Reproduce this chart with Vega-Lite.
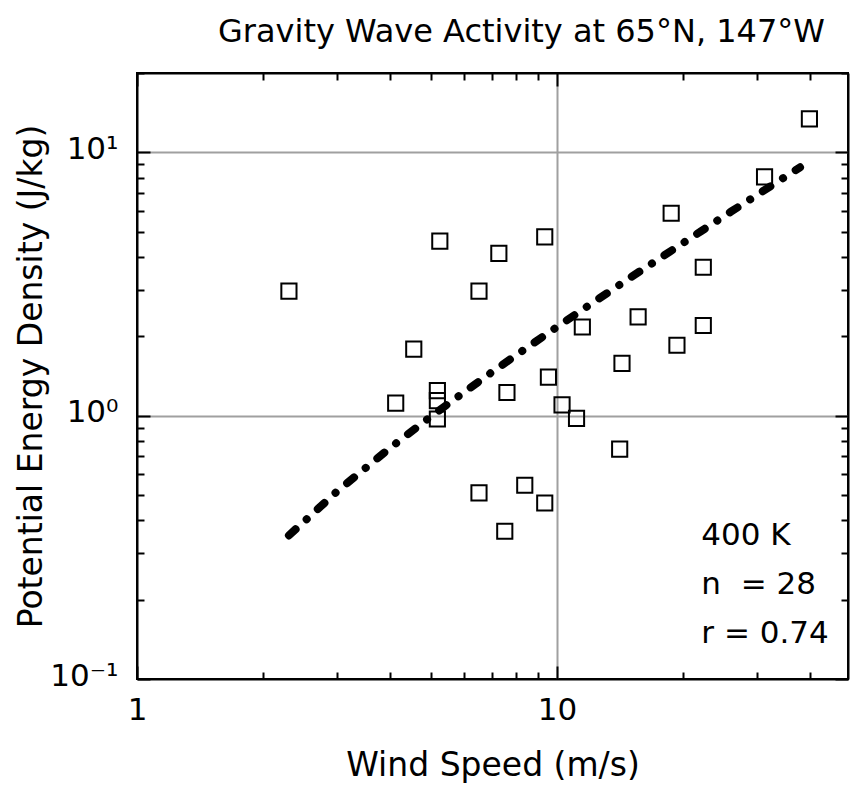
{
  "$schema": "https://vega.github.io/schema/vega-lite/v6.json",
  "width": 711,
  "height": 606,
  "autosize": "none",
  "padding": {"left": 137, "top": 73, "right": 2, "bottom": 112},
  "background": "white",
  "config": {"view": {"stroke": "black", "strokeWidth": 2}, "font": "DejaVu Sans"},
  "title": {"text": "Gravity Wave Activity at 65°N, 147°W", "font": "DejaVu Sans", "fontSize": 32, "fontWeight": "normal", "color": "black", "anchor": "middle", "frame": "group", "offset": 5, "dx": 29},
  "datasets": {
    "pts": [
      {"ws": 2.30, "ped": 2.97}, {"ws": 5.26, "ped": 4.60}, {"ws": 7.27, "ped": 4.13}, {"ws": 9.35, "ped": 4.77},
      {"ws": 6.52, "ped": 2.97}, {"ws": 4.56, "ped": 1.79}, {"ws": 4.13, "ped": 1.115}, {"ws": 5.19, "ped": 1.245},
      {"ws": 5.19, "ped": 1.14}, {"ws": 5.19, "ped": 0.971}, {"ws": 7.60, "ped": 1.224}, {"ws": 9.54, "ped": 1.40},
      {"ws": 10.28, "ped": 1.098}, {"ws": 11.13, "ped": 0.977}, {"ws": 14.1, "ped": 0.746}, {"ws": 6.52, "ped": 0.509},
      {"ws": 8.38, "ped": 0.544}, {"ws": 9.35, "ped": 0.466}, {"ws": 7.51, "ped": 0.364}, {"ws": 18.7, "ped": 5.87},
      {"ws": 22.3, "ped": 3.66}, {"ws": 15.6, "ped": 2.37}, {"ws": 11.49, "ped": 2.17}, {"ws": 22.3, "ped": 2.20},
      {"ws": 19.3, "ped": 1.85}, {"ws": 14.28, "ped": 1.58}, {"ws": 39.9, "ped": 13.4}, {"ws": 31.2, "ped": 8.07}
    ],
    "fit": [
      {"ws": 2.3, "ped": 0.351}, {"ws": 3, "ped": 0.517}, {"ws": 4, "ped": 0.753}, {"ws": 5, "ped": 0.990},
      {"ws": 6, "ped": 1.226}, {"ws": 7, "ped": 1.463}, {"ws": 8, "ped": 1.699}, {"ws": 10, "ped": 2.172},
      {"ws": 12, "ped": 2.645}, {"ws": 15, "ped": 3.355}, {"ws": 18, "ped": 4.06}, {"ws": 22, "ped": 5.01},
      {"ws": 26, "ped": 5.96}, {"ws": 30, "ped": 6.90}, {"ws": 34, "ped": 7.85}, {"ws": 37.9, "ped": 8.77}
    ],
    "notes": [
      {"t": "400 K", "ws": 22.06, "ped": 0.3214},
      {"t": "n\u00a0 = 28", "ws": 22.06, "ped": 0.2104},
      {"t": "r = 0.74", "ws": 22.06, "ped": 0.1364}
    ]
  },
  "layer": [
    {
      "data": {"name": "pts"},
      "mark": {"type": "point", "shape": "square", "filled": false, "stroke": "black", "strokeWidth": 2, "size": 230, "opacity": 1},
      "encoding": {
        "x": {
          "field": "ws", "type": "quantitative",
          "scale": {"type": "log", "domain": [1, 49.3], "nice": false},
          "axis": {
            "orient": "bottom",
            "values": [1, 2, 3, 4, 5, 6, 7, 8, 9, 10, 20, 30, 40],
            "labelExpr": "datum.value == 1 ? '1' : datum.value == 10 ? '10' : ''",
            "labelFont": "DejaVu Sans", "labelFontSize": 31, "labelColor": "black",
            "labelFlush": false, "labelOverlap": false, "labelPadding": 29.5,
            "tickSize": {"condition": {"test": "datum.value == 1 || datum.value == 10", "value": -13}, "value": -7},
            "tickColor": "black", "tickWidth": 2,
            "domainColor": "black", "domainWidth": 2,
            "grid": true, "gridColor": "#a0a0a0", "gridWidth": 2,
            "gridOpacity": {"condition": {"test": "datum.value == 10", "value": 1}, "value": 0},
            "title": "Wind Speed (m/s)", "titleFont": "DejaVu Sans", "titleFontSize": 33, "titleFontWeight": "normal", "titleColor": "black", "titlePadding": 18
          }
        },
        "y": {
          "field": "ped", "type": "quantitative",
          "scale": {"type": "log", "domain": [0.1, 20], "nice": false},
          "axis": {
            "orient": "left",
            "values": [0.1, 0.2, 0.3, 0.4, 0.5, 0.6, 0.7, 0.8, 0.9, 1, 2, 3, 4, 5, 6, 7, 8, 9, 10, 20],
            "labelExpr": "datum.value == 10 ? '10¹' : datum.value == 1 ? '10⁰' : datum.value == 0.1 ? '10⁻¹' : ''",
            "labelFont": "DejaVu Sans", "labelFontSize": 31, "labelColor": "black",
            "labelFlush": false, "labelOverlap": false, "labelPadding": 32, "labelOffset": -3,
            "tickSize": {"condition": {"test": "datum.value == 0.1 || datum.value == 1 || datum.value == 10", "value": -13}, "value": -7},
            "tickColor": "black", "tickWidth": 2,
            "domainColor": "black", "domainWidth": 2,
            "grid": true, "gridColor": "#a0a0a0", "gridWidth": 2,
            "gridOpacity": {"condition": {"test": "datum.value == 1 || datum.value == 10", "value": 1}, "value": 0},
            "title": "Potential Energy Density (J/kg)", "titleFont": "DejaVu Sans", "titleFontSize": 33, "titleFontWeight": "normal", "titleColor": "black", "titlePadding": 1
          }
        }
      }
    },
    {
      "data": {"name": "fit"},
      "mark": {"type": "line", "stroke": "black", "strokeWidth": 8, "strokeCap": "round", "strokeJoin": "round", "strokeDash": [9, 15, 0.1, 15]},
      "encoding": {
        "x": {
          "field": "ws", "type": "quantitative",
          "axis": {
            "orient": "top",
            "values": [1, 2, 3, 4, 5, 6, 7, 8, 9, 10, 20, 30, 40],
            "labels": false, "title": null, "grid": false,
            "tickSize": {"condition": {"test": "datum.value == 1 || datum.value == 10", "value": -13}, "value": -7},
            "tickColor": "black", "tickWidth": 2,
            "domainColor": "black", "domainWidth": 2
          }
        },
        "y": {
          "field": "ped", "type": "quantitative",
          "axis": {
            "orient": "right",
            "values": [0.1, 0.2, 0.3, 0.4, 0.5, 0.6, 0.7, 0.8, 0.9, 1, 2, 3, 4, 5, 6, 7, 8, 9, 10, 20],
            "labels": false, "title": null, "grid": false,
            "tickSize": {"condition": {"test": "datum.value == 0.1 || datum.value == 1 || datum.value == 10", "value": -13}, "value": -7},
            "tickColor": "black", "tickWidth": 2,
            "domainColor": "black", "domainWidth": 2
          }
        }
      }
    },
    {
      "data": {"name": "notes"},
      "mark": {"type": "text", "align": "left", "baseline": "alphabetic", "font": "DejaVu Sans", "fontSize": 31, "color": "black"},
      "encoding": {
        "x": {"field": "ws", "type": "quantitative", "axis": null},
        "y": {"field": "ped", "type": "quantitative", "axis": null},
        "text": {"field": "t"}
      }
    }
  ],
  "resolve": {"axis": {"x": "independent", "y": "independent"}}
}
